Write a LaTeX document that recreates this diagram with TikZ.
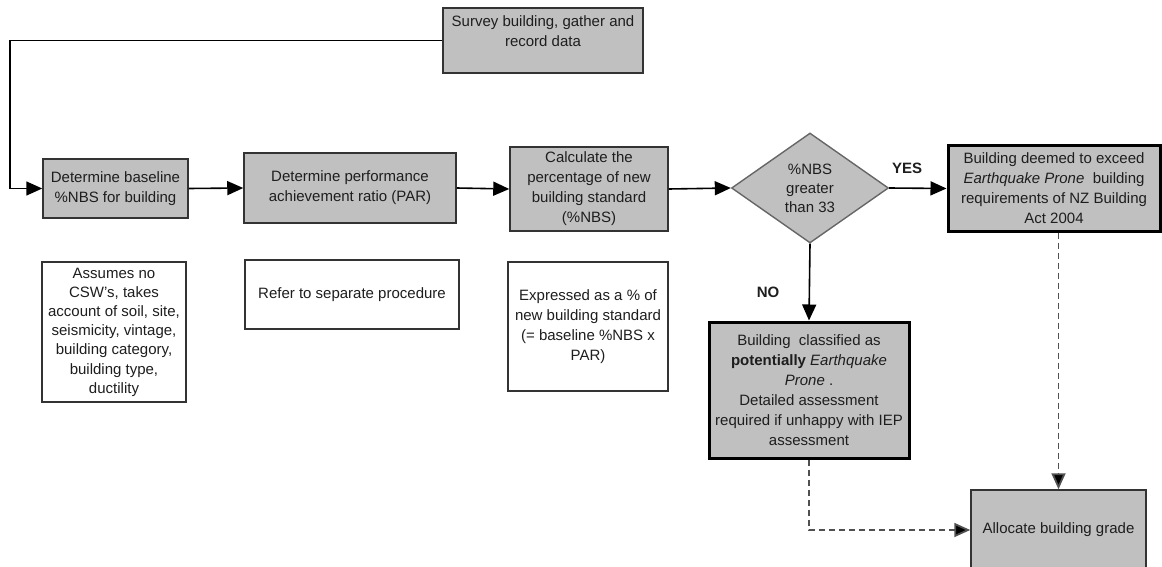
\documentclass[tikz,border=0pt]{standalone}
\usepackage{fontspec}
\setmainfont{Liberation Sans}
\usetikzlibrary{shapes.geometric,arrows.meta}
\definecolor{boxfill}{HTML}{C0C0C0}
\definecolor{boxline}{HTML}{333333}
\definecolor{txt}{HTML}{1E1E1E}
\definecolor{dashgray}{HTML}{505050}
\tikzset{
  base/.style={rectangle, inner sep=0pt, align=center, text=txt,
    font=\fontsize{15pt}{20pt}\selectfont},
  greybox/.style={base, draw=boxline, line width=1.5pt, fill=boxfill},
  thickbox/.style={base, draw=black, line width=3pt, fill=boxfill},
  notebox/.style={base, draw=boxline, line width=1.4pt, fill=white},
  decision/.style={diamond, inner sep=0pt, draw=black!60, line width=1.4pt, fill=boxfill,
    align=center, text=txt, font=\fontsize{15pt}{19pt}\selectfont},
  flow/.style={line width=1.6pt, draw=black, -{Triangle[length=16pt,width=14pt]}},
  dflow/.style={line width=1.8pt, draw=dashgray, dash pattern=on 6pt off 4pt,
    -{Triangle[length=16pt,width=14pt,fill=black]}},
  lbl/.style={font=\fontsize{15pt}{18pt}\selectfont\bfseries, text=txt, inner sep=0pt}
}
\begin{document}
\begin{tikzpicture}[x=1pt,y=-1pt]
\useasboundingbox (0,0) rectangle (1162,567);
\clip (0,0) rectangle (1162,567);

\node[greybox, minimum width=200pt, minimum height=65pt] (survey) at (543,40.5)
  {Survey building, gather and\\ record data\\[-7pt] \strut};
\node[greybox, minimum width=145pt, minimum height=59pt] (baseline) at (115.5,188.5)
  {Determine baseline\\ \%NBS for building};
\node[greybox, minimum width=212pt, minimum height=70pt] (par) at (350,188)
  {Determine performance\\ achievement ratio (PAR)};
\node[greybox, minimum width=158pt, minimum height=84pt] (calc) at (589,189)
  {Calculate the\\ percentage of new\\ building standard\\ (\%NBS)};
\node[decision, minimum width=157pt, minimum height=110pt] (dec) at (810,188)
  {\%NBS\\ greater\\ than 33};
\node[thickbox, minimum width=212pt, minimum height=85pt] (deemed) at (1054,188.5)
  {Building deemed to exceed\\ \textit{Earthquake Prone}\ \ building\\ requirements of NZ Building\\ Act 2004};
\node[thickbox, minimum width=200pt, minimum height=136pt] (classified) at (809,390)
  {Building\ \ classified as\\ \textbf{potentially} \textit{Earthquake}\\ \textit{Prone} .\\ Detailed assessment\\ required if unhappy with IEP\\ assessment};
\node[greybox, minimum width=175pt, minimum height=80pt] (allocate) at (1058.5,530)
  {Allocate building grade};

\node[notebox, minimum width=144pt, minimum height=140pt, font=\fontsize{15pt}{19.2pt}\selectfont] (assumes) at (114,332)
  {Assumes no\\ CSW's, takes\\ account of soil, site,\\ seismicity, vintage,\\ building category,\\ building type,\\ ductility};
\node[notebox, minimum width=214pt, minimum height=69pt] (refer) at (352,294.5)
  {Refer to separate procedure};
\node[notebox, minimum width=160pt, minimum height=129pt] (expressed) at (588,326.5)
  {Expressed as a \% of\\ new building standard\\ (= baseline \%NBS x\\ PAR)};

\node[lbl] (yes) at (907,168) {YES};
\node[lbl] (no) at (768,292) {NO};

\coordinate (corner) at (10,40.5);
\draw[flow] (survey.west) -- (corner) |- (baseline.west);
\draw[flow] (baseline.east) -- (par.west);
\draw[flow] (par.east) -- (calc.west);
\draw[flow] (calc.east) -- (dec.west);
\draw[flow] (dec.east) -- (deemed.west);
\draw[flow] (dec.south) -- (classified.north);
\draw[dflow] (deemed.south -| allocate.north) -- (allocate.north);
\draw[dflow] (classified.south) |- (allocate.west);
\end{tikzpicture}
\end{document}
